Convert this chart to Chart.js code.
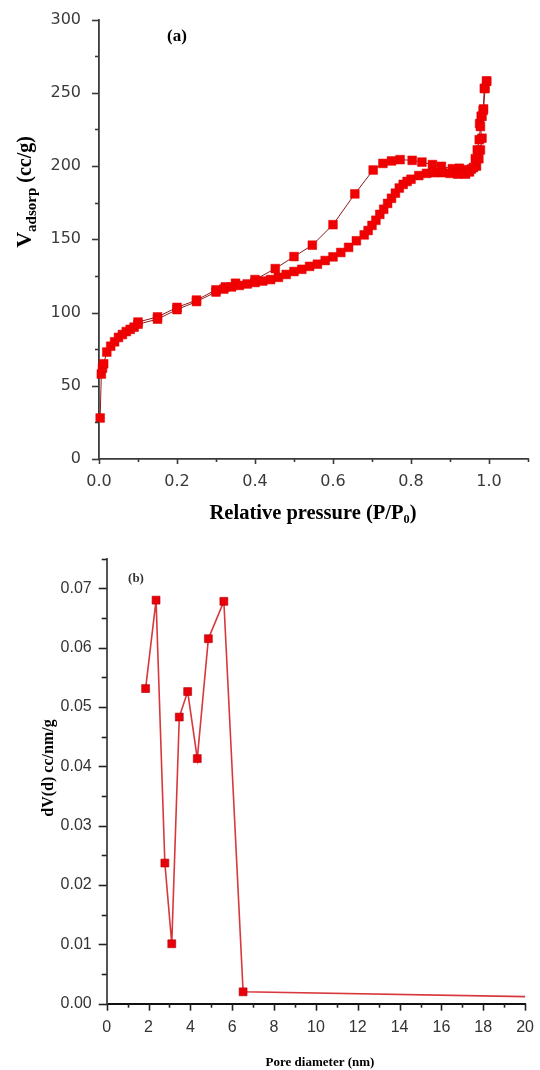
<!DOCTYPE html>
<html>
<head>
<meta charset="utf-8">
<script src="https://cdn.jsdelivr.net/npm/chart.js@4/dist/chart.umd.min.js"></script>
<style>
  html, body { margin: 0; padding: 0; background: #ffffff; }
  #wrap { position: relative; width: 540px; height: 1070px; overflow: hidden; }
  canvas { position: absolute; left: 0; }
  #c1 { top: 0; }
  #c2 { top: 540px; }
</style>
</head>
<body>
<div id="wrap">
  <canvas id="c1" width="540" height="540"></canvas>
  <canvas id="c2" width="540" height="530"></canvas>
</div>
<script>
// ---------- Panel (a): N2 isotherm ----------
const adsorptionP = [0.003,0.006,0.009,0.012,0.02,0.03,0.04,0.05,0.06,0.07,0.08,0.09,0.10,0.15,0.20,0.25,0.30,0.32,0.34,0.36,0.38,0.40,0.42,0.44,0.46,0.48,0.50,0.52,0.54,0.56,0.58,0.60,0.62,0.64,0.66,0.68,0.69,0.70,0.71,0.72,0.73,0.74,0.75,0.76,0.77,0.78,0.79,0.80,0.82,0.84,0.86,0.88,0.90,0.92,0.94,0.95,0.96,0.965,0.97,0.975,0.978,0.982,0.986,0.99,0.994];
const adsorptionV = [28,58,62,65,73,77,80,83,85,87,88.5,90,92,95.5,102,107.5,114,116,117.5,118.5,119.5,120.5,121.5,122.5,124,126,128,129.5,131.5,133,135.5,138,141,144.5,149,153,156,159.5,163,167,170.5,174.5,178,181.5,185,187.5,189.5,191,193.5,195,195.5,195.5,195,194.5,194.5,196,199,205,211,218,227,234,239,253,258];
const desorptionP = [0.994,0.988,0.985,0.980,0.976,0.982,0.978,0.974,0.968,0.955,0.935,0.924,0.906,0.878,0.855,0.828,0.803,0.772,0.750,0.728,0.703,0.656,0.600,0.547,0.500,0.452,0.400,0.350,0.324,0.300,0.250,0.200,0.150,0.100];
const desorptionV = [258,253,238,234,229,219,211,205,200,198,197.5,198.5,198.2,199.8,201,202.7,203.9,204.4,203.5,201.8,197.3,181,160,146,138.2,130,122.5,120,117.5,115.5,108.5,103.5,97,93.5];
const isoXTicks = [0,0.2,0.4,0.6,0.8,1.0];
const isoXMinor = [0.1,0.3,0.5,0.7,0.9,1.1];
const isoYTicks = [0,50,100,150,200,250,300];
const isoYMinor = [25,75,125,175,225,275];

// ---------- Panel (b): pore size distribution ----------
const poreDiameter = [1.86,2.36,2.78,3.11,3.47,3.87,4.33,4.86,5.60,6.52,20];
const poreVolume   = [0.0531,0.0680,0.0237,0.0101,0.0483,0.0526,0.0413,0.0615,0.0678,0.0020,0.0012];
const poreMarker   = [1,1,1,1,1,1,1,1,1,1,0];
const poreXTicks = [0,2,4,6,8,10,12,14,16,18,20];
const poreXMinor = [1,3,5,7,9,11,13,15,17,19];
const poreYTicks = [0,0.01,0.02,0.03,0.04,0.05,0.06,0.07];
const poreYMinor = [0.005,0.015,0.025,0.035,0.045,0.055,0.065,0.075];

// ---------- text ----------
const labelA = '(a)';
const labelB = '(b)';
const isoXTitle = 'Relative pressure (P/P\u2080)';
const isoYTitleMain = 'V';
const isoYTitleSub = 'adsorp';
const isoYTitleRest = ' (cc/g)';
const poreXTitle = 'Pore diameter (nm)';
const poreYTitle = 'dV(d) cc/nm/g';

const pts = (xs, ys) => xs.map((x, i) => ({ x: x, y: ys[i] }));

const tickPlugin = {
  id: 'axisTicks',
  afterDraw(chart, args, o) {
    const ctx = chart.ctx, xs = chart.scales.x, ys = chart.scales.y;
    const bottom = chart.chartArea.bottom, left = chart.chartArea.left;
    ctx.save();
    ctx.strokeStyle = o.color; ctx.lineWidth = o.width;
    const vline = (v, len) => { const p = Math.round(xs.getPixelForValue(v)) + 0.5; ctx.beginPath(); ctx.moveTo(p, bottom); ctx.lineTo(p, bottom + len); ctx.stroke(); };
    const hline = (v, len) => { const p = Math.round(ys.getPixelForValue(v)) + 0.5; ctx.beginPath(); ctx.moveTo(left, p); ctx.lineTo(left - len, p); ctx.stroke(); };
    o.xMajor.forEach(v => vline(v, o.xMajorLen));
    o.xMinor.forEach(v => vline(v, o.xMinorLen));
    o.yMajor.forEach(v => hline(v, o.yMajorLen));
    o.yMinor.forEach(v => hline(v, o.yMinorLen));
    ctx.restore();
  }
};

const textPlugin = {
  id: 'panelText',
  afterDraw(chart, args, o) {
    const ctx = chart.ctx;
    ctx.save();
    (o.items || []).forEach(it => {
      ctx.save();
      ctx.fillStyle = it.color || '#000';
      ctx.textBaseline = 'alphabetic';
      ctx.translate(it.x, it.y);
      if (it.rotate) ctx.rotate(-Math.PI / 2);
      const parts = it.parts;
      let total = 0;
      parts.forEach(p => { ctx.font = p.font; total += ctx.measureText(p.text).width; });
      let cx = -total / 2;
      ctx.textAlign = 'left';
      parts.forEach(p => {
        ctx.font = p.font;
        ctx.fillText(p.text, cx, p.dy || 0);
        cx += ctx.measureText(p.text).width;
      });
      ctx.restore();
    });
    ctx.restore();
  }
};

Chart.register(tickPlugin, textPlugin);

const markerRed = '#f00000';

// ----- Chart (a) -----
new Chart(document.getElementById('c1'), {
  type: 'scatter',
  data: {
    datasets: [
      {
        label: 'Adsorption',
        data: pts(adsorptionP, adsorptionV),
        showLine: true,
        borderColor: '#8e1b1b',
        borderWidth: 1,
        pointStyle: 'rect',
        pointRadius: 6.2,
        pointBackgroundColor: markerRed,
        pointBorderColor: '#e00000',
        pointBorderWidth: 0.5,
        clip: false
      },
      {
        label: 'Desorption',
        data: pts(desorptionP, desorptionV),
        showLine: true,
        borderColor: '#8e1b1b',
        borderWidth: 1,
        pointStyle: 'rect',
        pointRadius: 6.2,
        pointBackgroundColor: markerRed,
        pointBorderColor: '#e00000',
        pointBorderWidth: 0.5,
        clip: false
      }
    ]
  },
  options: {
    responsive: false,
    animation: false,
    events: [],
    layout: { padding: { top: 19, right: 12, left: 0, bottom: 0 } },
    plugins: {
      legend: { display: false },
      tooltip: { enabled: false },
      axisTicks: {
        color: '#3a3a3a', width: 1.6,
        xMajor: isoXTicks, xMinor: isoXMinor, xMajorLen: 5, xMinorLen: 3,
        yMajor: isoYTicks, yMinor: isoYMinor, yMajorLen: 7, yMinorLen: 4
      },
      panelText: {
        items: [
          { x: 177, y: 41, parts: [{ text: labelA, font: 'bold 17px "Liberation Serif"' }] },
          { x: 313, y: 519, parts: [
              { text: isoXTitle, font: 'bold 20.5px "Liberation Serif"' }
            ] },
          { x: 31, y: 192, rotate: true, parts: [
              { text: isoYTitleMain, font: 'bold 22px "Liberation Serif"' },
              { text: isoYTitleSub, font: 'bold 15px "Liberation Serif"', dy: 5 },
              { text: isoYTitleRest, font: 'bold 20px "Liberation Serif"' }
            ] }
        ]
      }
    },
    scales: {
      x: {
        type: 'linear', min: 0, max: 1.1,
        afterBuildTicks: s => { s.ticks = isoXTicks.map(v => ({ value: v })); },
        afterFit: s => { s.height = 81; },
        grid: { display: false },
        border: { display: true, color: '#3a3a3a', width: 1.8 },
        ticks: { padding: 5, color: '#3a3a3a', font: { family: '"DejaVu Sans"', size: 16 },
                 callback: v => Number(v).toFixed(1), maxRotation: 0, autoSkip: false }
      },
      y: {
        type: 'linear', min: 0, max: 300,
        afterBuildTicks: s => { s.ticks = isoYTicks.map(v => ({ value: v })); },
        afterFit: s => { s.width = 99; },
        grid: { display: false },
        border: { display: true, color: '#3a3a3a', width: 1.8 },
        ticks: { padding: 10, color: '#3a3a3a', font: { family: '"DejaVu Sans"', size: 16 },
                 callback: v => String(v), autoSkip: false }
      }
    }
  }
});

// ----- Chart (b) -----
new Chart(document.getElementById('c2'), {
  type: 'scatter',
  data: {
    datasets: [
      {
        label: 'PSD',
        data: pts(poreDiameter, poreVolume),
        showLine: true,
        borderColor: '#d8383c',
        borderWidth: 1.6,
        pointStyle: 'rect',
        pointRadius: poreMarker.map(m => m ? 5.6 : 0),
        pointBackgroundColor: '#e8000b',
        pointBorderColor: '#b00000',
        pointBorderWidth: 0.6,
        clip: false
      }
    ]
  },
  options: {
    responsive: false,
    animation: false,
    events: [],
    layout: { padding: { top: 18.6, right: 13, left: 0, bottom: 0 } },
    plugins: {
      legend: { display: false },
      tooltip: { enabled: false },
      axisTicks: {
        color: '#222', width: 1.6,
        xMajor: poreXTicks, xMinor: poreXMinor, xMajorLen: 7, xMinorLen: 4,
        yMajor: poreYTicks, yMinor: poreYMinor, yMajorLen: 8, yMinorLen: 5
      },
      panelText: {
        items: [
          { x: 136, y: 42, parts: [{ text: labelB, font: 'bold 13px "Liberation Serif"' }], color: '#333' },
          { x: 320, y: 526, parts: [{ text: poreXTitle, font: 'bold 13px "Liberation Serif"' }] },
          { x: 53, y: 228, rotate: true, parts: [{ text: poreYTitle, font: 'bold 16px "Liberation Serif"' }] }
        ]
      }
    },
    scales: {
      x: {
        type: 'linear', min: 0, max: 20,
        afterBuildTicks: s => { s.ticks = poreXTicks.map(v => ({ value: v })); },
        afterFit: s => { s.height = 66.3; },
        grid: { display: false },
        border: { display: true, color: '#111', width: 2 },
        ticks: { padding: 6, color: '#333', font: { family: '"Liberation Sans Narrow", "Liberation Sans"', size: 16 },
                 callback: v => String(v), maxRotation: 0, autoSkip: false }
      },
      y: {
        type: 'linear', min: 0, max: 0.075,
        afterBuildTicks: s => { s.ticks = poreYTicks.map(v => ({ value: v })); },
        afterFit: s => { s.width = 106.7; },
        grid: { display: false },
        border: { display: true, color: '#555', width: 2 },
        ticks: { padding: 7, color: '#333', font: { family: '"Liberation Sans Narrow", "Liberation Sans"', size: 16 },
                 callback: v => Number(v).toFixed(2), autoSkip: false }
      }
    }
  }
});
</script>
</body>
</html>
